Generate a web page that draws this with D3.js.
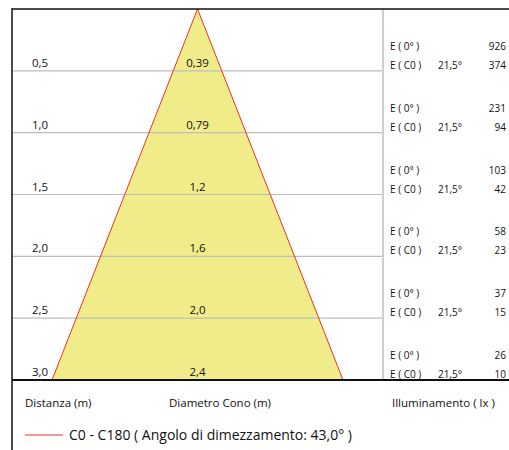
<!DOCTYPE html>
<html>
<head>
<meta charset="utf-8">
<script src="https://cdn.jsdelivr.net/npm/d3@7"></script>
<style>
  body { margin: 0; background: #fff; }
  text { font-family: "Open Sans", "Noto Sans", sans-serif; fill: #111; }
</style>
</head>
<body>
<div id="chart"></div>
<script>
// chart values
var distances = [0.5, 1.0, 1.5, 2.0, 2.5, 3.0];
var diameters = [0.39, 0.79, 1.2, 1.6, 2.0, 2.4];
var eCenter = [926, 231, 103, 58, 37, 26];
var eC0 = [374, 94, 42, 23, 15, 10];
var halfAngle = 21.5;
var axisTitles = ["Distanza (m)", "Diametro Cono (m)", "Illuminamento ( lx )"];
var legendText = "C0 - C180  ( Angolo di dimezzamento: 43,0° )";

var svgWidth = 509;
var svgHeight = 450;

var it = d3.formatLocale({decimal: ",", thousands: ".", grouping: [3], currency: ["", "€"]});
var fmtDist = it.format(".1f");
var fmtDiam = it.format(".2r");
var fmtAng = it.format(".1f");

var svg = d3.select("#chart").append("svg")
  .attr("width", svgWidth)
  .attr("height", svgHeight);

// scales: distance down, diameter across
var yScale = d3.scaleLinear().domain([0, 3]).range([9, 380]);
var xScale = d3.scaleLinear().domain([-1.2, 1.2]).range([52, 343]);

var left = 12, right = 509, splitX = 383;

// triangle (cone): left base -> apex -> right base
var last = diameters.length - 1;
var cone = [
  [xScale(-diameters[last] / 2), yScale(distances[last])],
  [xScale(0), yScale(0)],
  [xScale(diameters[last] / 2), yScale(distances[last])]
];
svg.append("path")
  .attr("d", d3.line()(cone) + "Z")
  .attr("fill", "#f1ec8a")
  .attr("stroke", "none");

// gray grid lines
svg.selectAll("line.grid")
  .data(distances.slice(0, last))
  .enter()
  .append("line")
  .attr("class", "grid")
  .attr("x1", left).attr("x2", splitX)
  .attr("y1", d => yScale(d)).attr("y2", d => yScale(d))
  .attr("stroke", "#bdbdbd")
  .attr("stroke-width", 1.2);

svg.append("line")
  .attr("x1", splitX).attr("x2", splitX)
  .attr("y1", yScale(0)).attr("y2", yScale(3))
  .attr("stroke", "#cfcfcf")
  .attr("stroke-width", 2);

// cone edges
svg.append("path")
  .attr("d", d3.line()(cone))
  .attr("fill", "none")
  .attr("stroke", "#e8322c")
  .attr("stroke-width", 1);

// frame
svg.append("line")
  .attr("x1", left).attr("x2", right)
  .attr("y1", yScale(0)).attr("y2", yScale(0))
  .attr("stroke", "#111").attr("stroke-width", 1.5);
svg.append("line")
  .attr("x1", left).attr("x2", right)
  .attr("y1", yScale(3)).attr("y2", yScale(3))
  .attr("stroke", "#111").attr("stroke-width", 2);
svg.append("line")
  .attr("x1", left).attr("x2", left)
  .attr("y1", yScale(0) - 0.75).attr("y2", svgHeight)
  .attr("stroke", "#111").attr("stroke-width", 1.5);

// distance labels
svg.selectAll("text.dist")
  .data(distances)
  .enter()
  .append("text")
  .attr("class", "dist")
  .attr("x", 32)
  .attr("y", d => yScale(d) - 4)
  .attr("font-size", 11.5)
  .text(d => fmtDist(d));

// diameter labels
svg.selectAll("text.diam")
  .data(diameters)
  .enter()
  .append("text")
  .attr("class", "diam")
  .attr("x", xScale(0))
  .attr("y", (d, i) => yScale(distances[i]) - 4)
  .attr("text-anchor", "middle")
  .attr("font-size", 11.5)
  .text(d => fmtDiam(d));

// illuminance labels
var rows = svg.selectAll("g.lux")
  .data(distances)
  .enter()
  .append("g")
  .attr("class", "lux")
  .attr("transform", d => `translate(0, ${yScale(d)})`);

rows.append("text").attr("x", 390).attr("y", -21).attr("font-size", 10).text("E ( 0° )");
rows.append("text").attr("x", 390).attr("y", -2).attr("font-size", 10).text("E ( C0 )");
rows.append("text").attr("x", 438).attr("y", -2).attr("font-size", 10).text(fmtAng(halfAngle) + "°");
rows.append("text").attr("x", 506).attr("y", -21).attr("font-size", 10)
  .attr("text-anchor", "end").text((d, i) => eCenter[i]);
rows.append("text").attr("x", 506).attr("y", -2).attr("font-size", 10)
  .attr("text-anchor", "end").text((d, i) => eC0[i]);

// axis titles
svg.append("text").attr("x", 25).attr("y", 407).attr("font-size", 11.5).text(axisTitles[0]);
svg.append("text").attr("x", 220).attr("y", 407).attr("font-size", 11.5)
  .attr("text-anchor", "middle").text(axisTitles[1]);
svg.append("text").attr("x", 392).attr("y", 407).attr("font-size", 11.5).text(axisTitles[2]);

// legend
svg.append("line")
  .attr("x1", 25).attr("x2", 63)
  .attr("y1", 435).attr("y2", 435)
  .attr("stroke", "#e8322c").attr("stroke-width", 1);
svg.append("text").attr("x", 69).attr("y", 440).attr("font-size", 14).text(legendText);
</script>
</body>
</html>
